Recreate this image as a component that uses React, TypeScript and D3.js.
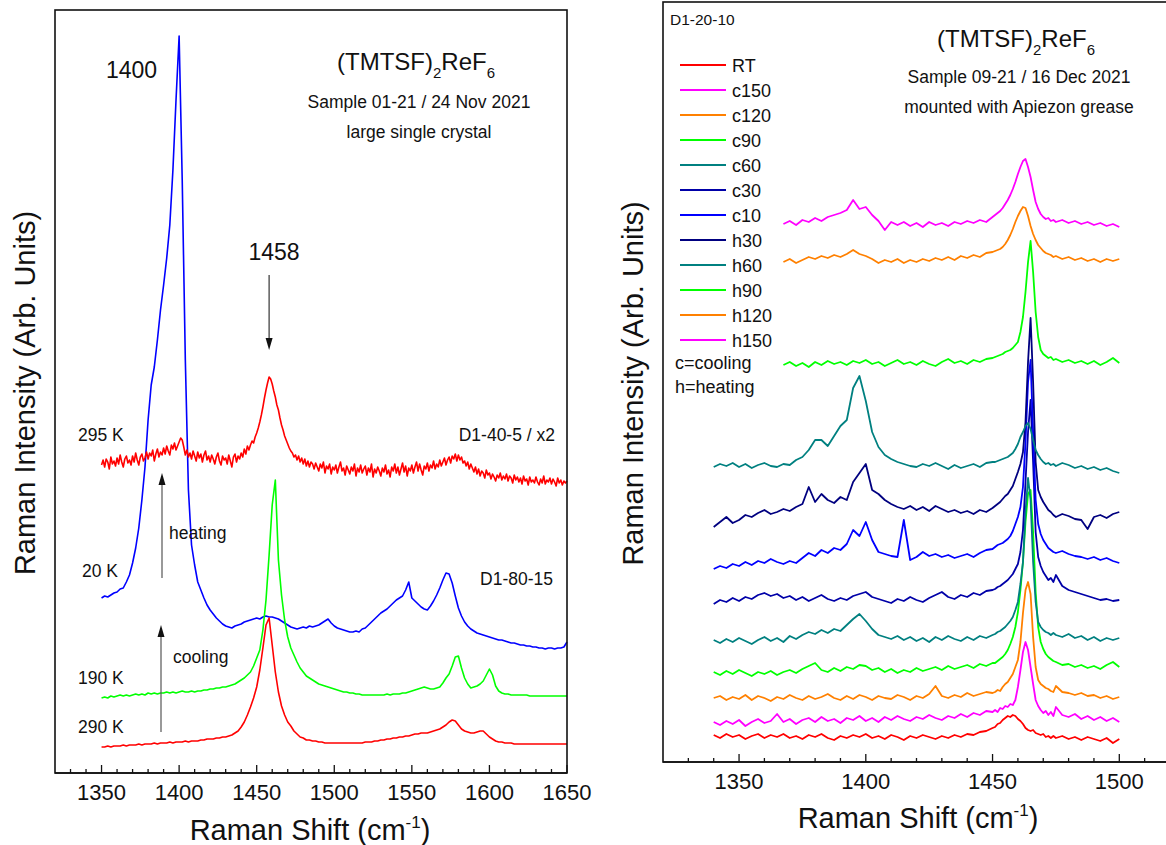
import React from "react";
import * as d3 from "d3";

const FONT = "'Liberation Sans', Arial, Helvetica, sans-serif";

// ---------- Left panel data ----------
// Raman shift grid for the low-noise spectra (step 2 cm-1)
const LEFT_SHIFT = d3.range(1350, 1650.1, 2);
// Raman shift grid for the noisy 295 K spectrum (step 1 cm-1)
const LEFT_SHIFT_FINE = d3.range(1350, 1650.1, 1);

// 295 K (D1-40-5 / x2)
const L_295K = [
  308,313,306,314,311,304,316,309,312,307,
  315,309,318,311,306,314,317,310,313,308,
  317,311,320,313,308,316,319,312,315,321,
  314,320,317,323,312,319,324,316,321,318,
  325,319,327,322,318,328,324,330,323,327,
  331,335,333,326,318,323,316,320,314,322,
  317,312,321,315,319,311,318,322,313,317,
  311,318,314,309,316,320,312,308,317,313,
  315,309,318,312,306,316,319,311,317,314,
  320,316,324,319,327,323,328,332,330,336,
  340,345,351,358,366,375,383,390,396,394,
  389,382,376,368,363,355,348,343,337,333,
  329,325,322,320,316,318,313,317,311,315,
  309,314,307,312,306,311,309,304,310,306,
  302,309,305,311,300,307,304,309,299,306,
  303,308,300,306,311,302,305,298,307,303,
  299,306,302,309,297,305,301,308,300,304,
  307,298,305,301,309,296,304,300,306,302,
  297,305,301,308,299,303,296,306,302,309,
  300,306,298,304,310,301,307,297,305,302,
  308,300,306,311,302,309,303,298,307,304,
  310,302,308,305,312,304,309,306,313,307,
  311,315,308,313,316,310,317,314,319,312,
  318,313,316,310,312,307,311,304,309,305,
  301,306,299,304,297,302,300,295,303,298,
  300,294,299,296,292,298,295,300,293,297,
  294,299,292,297,295,290,298,293,296,291,
  295,289,297,292,294,288,296,291,293,290,
  296,291,288,294,290,297,289,293,291,295,
  289,294,291,287,295,290,293,288,292,290,
  292,
];
// 20 K (D1-80-15)
const L_20K = [
  175,177,176,178,180,181,184,185,191,198, 210,225,245,273,306,353,388,406,433,463,
  488,515,548,603,673,737,593,413,283,228, 208,191,183,175,168,163,159,155,152,149,
  147,146,145,147,148,149,151,152,153,154, 155,154,156,157,156,156,155,154,152,150,
  148,146,145,144,145,146,145,147,146,147, 148,150,152,154,150,147,145,144,143,142,
  141,141,142,141,144,145,148,151,154,157, 160,162,164,167,170,173,175,177,183,191,
  175,172,169,166,164,163,167,172,178,185, 193,200,199,190,177,165,157,151,147,144,
  142,140,139,138,137,136,135,134,133,133, 132,131,130,130,129,128,128,127,127,126,
  126,125,125,124,125,125,124,125,125,126, 131,
];
// 190 K
const L_190K = [
  75,76,75,77,76,77,78,77,78,77, 78,79,78,79,78,80,79,80,79,80,
  80,81,80,81,80,81,82,81,81,82, 81,82,82,83,83,84,84,85,85,86,
  86,87,88,89,91,93,95,98,101,107, 115,123,143,173,218,268,293,213,178,153,
  136,125,118,111,105,101,97,95,93,91, 89,88,87,86,85,84,83,82,81,81,
  80,80,79,79,78,78,78,78,78,78, 78,78,79,78,79,79,79,80,80,81,
  82,83,84,85,86,85,84,84,85,86, 90,95,99,107,116,117,105,95,89,85,
  86,87,89,92,98,104,98,87,82,80, 79,79,78,78,78,78,78,78,77,77,
  77,77,77,77,77,77,77,77,77,77, 77,
];
// 290 K
const L_290K = [
  26,26,27,26,27,27,27,28,27,28, 28,28,29,28,29,29,29,30,29,30,
  30,30,31,30,31,31,31,32,31,32, 32,32,33,33,34,34,34,35,35,36,
  36,37,38,40,42,46,51,58,66,75, 86,103,125,148,155,128,101,81,67,58,
  51,47,42,39,36,35,33,33,32,32, 31,31,30,30,30,30,30,30,30,30,
  30,30,30,30,30,31,31,31,32,32, 33,33,34,34,35,35,36,36,37,37,
  38,39,39,40,40,40,41,42,43,44, 46,48,51,53,52,48,44,42,41,40,
  40,41,42,42,39,36,34,32,31,31, 30,30,30,29,29,29,29,29,29,29,
  29,29,29,29,29,29,29,29,29,29, 29,
];

const LEFT_SERIES = [
  { name: "20 K", color: "#0000ff", shift: LEFT_SHIFT, values: L_20K },
  { name: "190 K", color: "#00ff00", shift: LEFT_SHIFT, values: L_190K },
  { name: "290 K", color: "#ff0000", shift: LEFT_SHIFT, values: L_290K },
  { name: "295 K", color: "#ff0000", shift: LEFT_SHIFT_FINE, values: L_295K },
];
const LEFT_TICKS = d3.range(1330, 1650.1, 10);

// ---------- Right panel data ----------
const RIGHT_SHIFT = [
  ...d3.range(1340, 1450.1, 2.5),
  ...d3.range(1451, 1474.1, 1),
  ...d3.range(1475, 1500.1, 2.5),
];
const N = null;
const R_RT = [
  27,24,28,25,27,23,26,28,24,27,25,28,24,26,23,27,25,28,24,22,26,24,27,25,28,24,26,23,27,25,22,26,24,27,25,23,26,24,27,25,28,27,30,31,34,
  35,38,39,42,44,46,45,47,46,43,41,38,34,32,31,32,29,28,27,28,25,26,24,26,
  24,26,23,25,22,25,23,21,24,19,23,
];
const R_C150 = [
  40,37,41,38,42,36,40,43,39,41,48,40,43,38,42,44,40,45,41,43,39,44,42,46,41,44,40,45,42,46,43,41,45,43,47,44,42,46,44,48,45,49,47,51,50,
  52,50,54,53,56,55,58,57,62,75,92,110,120,112,95,78,62,56,52,49,51,47,50,46,
  55,47,45,48,43,46,42,45,41,44,40,
];
const R_C120 = [
  64,66,62,65,63,67,62,66,64,61,65,63,67,64,62,66,63,65,68,64,62,66,63,67,65,62,66,64,63,67,65,62,66,64,68,76,66,64,67,65,69,66,68,70,69,
  70,72,71,75,78,80,84,88,95,102,120,149,172,180,168,125,95,82,78,76,74,73,71,70,
  76,70,69,67,69,66,67,64,66,63,65,
];
const R_C90 = [
  90,87,91,88,92,89,86,90,88,91,87,90,92,89,93,96,99,92,90,94,91,95,93,97,96,92,94,90,93,89,92,90,94,91,93,95,92,96,93,95,97,94,98,96,99,
  99,101,103,105,108,112,118,125,135,150,172,200,240,268,272,230,170,135,120,113,108,105,103,101,
  100,97,98,95,97,94,96,93,97,100,95,
];
const R_C60 = [
  122,119,123,120,124,121,118,122,125,121,124,120,126,123,127,130,128,132,129,133,131,137,143,148,141,133,127,125,123,126,122,125,121,124,120,125,122,126,123,121,125,122,126,124,127,
  128,130,131,133,135,138,141,145,152,160,178,200,250,284,262,200,160,140,135,132,130,129,127,129,
  127,125,128,124,126,122,125,121,124,122,124,
];
const R_C30 = [
  158,162,160,164,161,165,163,167,169,166,168,164,166,162,165,161,164,167,163,161,164,162,166,168,170,165,163,161,159,163,161,165,162,160,164,167,170,165,163,167,165,169,167,171,172,
  173,175,176,178,180,182,185,188,193,198,210,232,280,330,362,300,230,205,196,190,186,182,184,180,
  187,176,172,170,168,166,164,162,163,161,162,
];
const R_C10 = [
  193,196,194,198,196,200,197,201,199,203,200,198,201,199,204,209,206,212,209,214,212,218,232,226,240,222,210,208,206,205,242,202,205,210,206,208,205,207,204,206,208,205,209,212,213,
  215,217,218,219,221,223,226,231,238,245,255,275,320,380,402,330,262,238,228,222,218,214,212,210,
  209,211,208,206,205,203,205,202,204,201,199,
];
const R_H30 = [
  235,240,245,239,242,247,245,249,252,248,250,253,251,255,258,275,260,268,262,259,265,262,280,289,298,272,268,262,258,255,253,256,252,255,251,256,253,250,252,249,251,248,252,250,254,
  256,258,260,263,266,268,272,276,283,290,298,310,340,400,444,380,300,272,265,260,256,252,250,247,
  245,248,246,243,242,233,245,247,244,248,250,
];
const R_H60 = [
  295,298,296,299,295,298,294,297,299,296,295,298,297,302,305,312,322,322,316,326,336,342,374,386,361,330,315,307,303,300,298,296,295,298,296,299,296,293,297,294,296,298,295,299,300,
  300,301,302,303,304,305,307,309,313,318,325,330,336,339,333,322,312,307,303,300,298,299,297,298,
  296,299,297,294,296,293,295,292,294,291,289,
];
const R_H90 = [
  N,N,N,N,N,N,N,N,N,N,N,397,400,396,399,395,400,397,401,398,400,397,401,399,402,398,400,396,399,402,398,400,397,401,398,396,400,403,399,401,398,402,400,403,404,
  405,406,407,408,410,411,412,414,417,420,430,445,470,500,521,490,450,425,412,408,406,404,405,402,
  403,400,402,399,401,398,401,397,400,404,399,
];
const R_H120 = [
  N,N,N,N,N,N,N,N,N,N,N,500,503,499,502,505,503,506,504,507,505,508,512,508,506,503,499,502,500,503,499,502,500,503,501,504,502,505,502,506,504,507,505,509,510,
  511,512,513,515,518,522,527,533,540,546,551,555,554,546,536,528,522,517,514,511,509,508,507,505,
  506,503,505,502,504,501,503,500,503,501,503,
];
const R_H150 = [
  N,N,N,N,N,N,N,N,N,N,N,538,541,537,542,540,544,541,545,547,549,552,562,553,555,547,541,532,540,537,540,536,539,535,540,537,539,536,540,538,541,539,542,540,545,
  547,549,551,554,558,562,567,573,580,588,595,601,603,595,585,572,560,553,548,545,543,544,541,542,
  540,542,539,541,538,540,537,539,536,538,535,
];

const RIGHT_SERIES = [
  { name: "RT", color: "#ff0000", values: R_RT },
  { name: "c150", color: "#ff00ff", values: R_C150 },
  { name: "c120", color: "#ff8000", values: R_C120 },
  { name: "c90", color: "#00ff00", values: R_C90 },
  { name: "c60", color: "#008080", values: R_C60 },
  { name: "c30", color: "#0000a8", values: R_C30 },
  { name: "c10", color: "#0000ff", values: R_C10 },
  { name: "h30", color: "#000080", values: R_H30 },
  { name: "h60", color: "#008080", values: R_H60 },
  { name: "h90", color: "#00ff00", values: R_H90 },
  { name: "h120", color: "#ff8000", values: R_H120 },
  { name: "h150", color: "#ff00ff", values: R_H150 },
];
const RIGHT_TICKS = d3.range(1330, 1520.1, 10);

function Arrow({ x, y1, y2, color = "#555", head = "#111" }: { x: number; y1: number; y2: number; color?: string; head?: string }) {
  const dir = y2 < y1 ? 1 : -1;
  const hl = 12;
  return (
    <g>
      <line x1={x} x2={x} y1={y1} y2={y2 + dir * hl * 0.8} stroke={color} strokeWidth={1.2} />
      <path d={`M${x},${y2} L${x - 3.5},${y2 + dir * hl} L${x + 3.5},${y2 + dir * hl} Z`} fill={head} />
    </g>
  );
}

function XAxis({ x, y0, ticks, labels }: { x: d3.ScaleLinear<number, number>; y0: number; ticks: number[]; labels: number[] }) {
  const [r0, r1] = x.range();
  return (
    <g>
      <line x1={r0} x2={r1} y1={y0} y2={y0} stroke="#111" strokeWidth={1.6} />
      {ticks.map((t) => (
        <line key={t} x1={x(t)} x2={x(t)} y1={y0} y2={y0 - (t % 50 === 0 ? 8 : 4)} stroke="#111" strokeWidth={1.3} />
      ))}
      {labels.map((t) => (
        <text key={"l" + t} x={x(t)} y={y0 + 27} textAnchor="middle" fontSize={22} fontFamily={FONT} fill="#111">
          {t}
        </text>
      ))}
    </g>
  );
}

function Title({ x, y }: { x: number; y: number }) {
  return (
    <text x={x} y={y} fontSize={24} fontFamily={FONT} fill="#111">
      (TMTSF)
      <tspan fontSize={15} dy={8}>2</tspan>
      <tspan dy={-8}>ReF</tspan>
      <tspan fontSize={15} dy={8}>6</tspan>
    </text>
  );
}

function AxisTitleX({ cx, y }: { cx: number; y: number }) {
  return (
    <text x={cx} y={y} textAnchor="middle" fontSize={29} fontFamily={FONT} fill="#111">
      Raman Shift (cm
      <tspan fontSize={17} dy={-12}>-1</tspan>
      <tspan dy={12}>)</tspan>
    </text>
  );
}

export default function App() {
  const xL = d3.scaleLinear().domain([1320, 1650]).range([55, 567]);
  const yL = d3.scaleLinear().domain([0, 763]).range([773, 10]);

  const xR = d3.scaleLinear().domain([1320, 1520]).range([663, 1170]);
  const yR = d3.scaleLinear().domain([0, 760]).range([762, 2]);
  const lineR = d3
    .line<number | null>()
    .defined((v) => v != null)
    .x((_, i) => xR(RIGHT_SHIFT[i]))
    .y((v) => yR(v as number));

  const tf = { fontFamily: FONT, fill: "#111" };

  return (
    <svg width={1166} height={845} style={{ position: "absolute", left: 0, top: 0, background: "#fff" }}>
      <rect x={0} y={0} width={1166} height={845} fill="#fff" />

      {/* ---------------- LEFT PANEL ---------------- */}
      <g>
        {LEFT_SERIES.map((s) => {
          const ln = d3
            .line<number>()
            .x((_, i) => xL(s.shift[i]))
            .y((v) => yL(v));
          return (
            <path key={s.name} d={ln(s.values) || ""} fill="none" stroke={s.color} strokeWidth={1.6} strokeLinejoin="round" />
          );
        })}
        <rect x={55} y={10} width={512} height={763} fill="none" stroke="#111" strokeWidth={1.6} />
        <XAxis x={xL} y0={773} ticks={LEFT_TICKS} labels={[1350, 1400, 1450, 1500, 1550, 1600, 1650]} />
        <AxisTitleX cx={310} y={840} />
        <text transform="translate(35,393) rotate(-90)" textAnchor="middle" fontSize={29} {...tf}>
          Raman Intensity (Arb. Units)
        </text>

        <text x={106} y={78} fontSize={23} {...tf}>1400</text>
        <Title x={337} y={70} />
        <text x={419} y={108} textAnchor="middle" fontSize={17.5} {...tf}>Sample 01-21 / 24 Nov 2021</text>
        <text x={419} y={138} textAnchor="middle" fontSize={17.5} {...tf}>large single crystal</text>
        <text x={274} y={260} textAnchor="middle" fontSize={23} {...tf}>1458</text>
        <Arrow x={xL(1458)} y1={275} y2={350} color="#333" head="#111" />

        <text x={78} y={441} fontSize={17.5} {...tf}>295 K</text>
        <text x={555} y={441} textAnchor="end" fontSize={17.5} {...tf}>D1-40-5 / x2</text>
        <Arrow x={162} y1={578} y2={473} />
        <text x={169} y={539} fontSize={17.5} {...tf}>heating</text>
        <text x={82} y={577} fontSize={17.5} {...tf}>20 K</text>
        <text x={553} y={585} textAnchor="end" fontSize={17.5} {...tf}>D1-80-15</text>
        <Arrow x={161} y1={732} y2={625} />
        <text x={173} y={663} fontSize={17.5} {...tf}>cooling</text>
        <text x={78} y={684} fontSize={17.5} {...tf}>190 K</text>
        <text x={78} y={733} fontSize={17.5} {...tf}>290 K</text>
      </g>

      {/* ---------------- RIGHT PANEL ---------------- */}
      <g>
        {RIGHT_SERIES.map((s) => (
          <path key={s.name} d={lineR(s.values) || ""} fill="none" stroke={s.color} strokeWidth={1.8} strokeLinejoin="round" />
        ))}
        <rect x={663} y={2} width={507} height={760} fill="none" stroke="#111" strokeWidth={1.6} />
        <XAxis x={xR} y0={762} ticks={RIGHT_TICKS} labels={[1350, 1400, 1450, 1500]} />
        <AxisTitleX cx={918} y={828} />
        <text transform="translate(643,383.5) rotate(-90)" textAnchor="middle" fontSize={29} {...tf}>
          Raman Intensity (Arb. Units)
        </text>

        <text x={670} y={25} fontSize={15.5} {...tf}>D1-20-10</text>
        <Title x={937} y={47} />
        <text x={1019} y={83} textAnchor="middle" fontSize={17.5} {...tf}>Sample 09-21 / 16 Dec 2021</text>
        <text x={1019} y={113} textAnchor="middle" fontSize={17.5} {...tf}>mounted with Apiezon grease</text>

        {RIGHT_SERIES.map((s, i) => (
          <g key={"lg" + s.name} transform={`translate(680,${65 + i * 25})`}>
            <line x1={0} x2={46} y1={0} y2={0} stroke={s.color} strokeWidth={2} />
            <text x={52} y={7} fontSize={18} {...tf}>{s.name}</text>
          </g>
        ))}
        <text x={675} y={369} fontSize={18} {...tf}>c=cooling</text>
        <text x={675} y={393} fontSize={18} {...tf}>h=heating</text>
      </g>
    </svg>
  );
}
